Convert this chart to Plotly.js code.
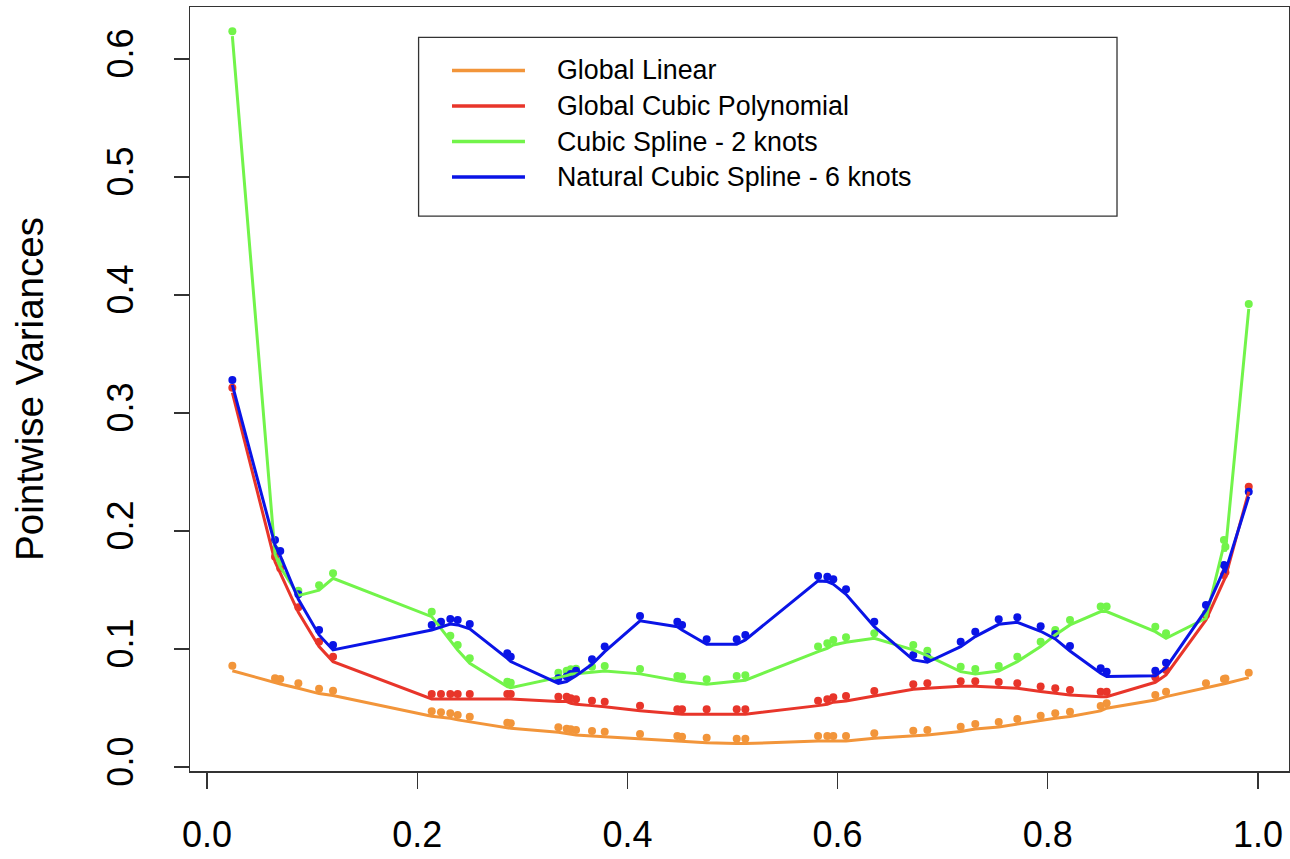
<!DOCTYPE html>
<html>
<head>
<meta charset="utf-8">
<script src="https://cdn.plot.ly/plotly-3.0.1.min.js"></script>
<style>html,body{margin:0;padding:0;background:#fff;}#chart{width:1290px;height:859px;}</style>
</head>
<body>
<div id="chart"></div>
<script>
// ---- data ----
const xs = [0.0241,0.0647,0.0697,0.0869,0.1066,0.1199,0.2138,0.2226,0.2315,0.2385,0.2500,0.2857,0.2890,0.3343,0.3422,0.3461,0.3511,0.3663,0.3784,0.4120,0.4475,0.4520,0.4754,0.5040,0.5122,0.5814,0.5902,0.5959,0.6080,0.6349,0.6720,0.6854,0.7171,0.7310,0.7533,0.7710,0.7932,0.8071,0.8211,0.8503,0.8560,0.9023,0.9125,0.9505,0.9676,0.9690,0.9912];

const globalLinear = [0.0858,0.0752,0.0745,0.0709,0.0664,0.0647,0.0472,0.0464,0.0455,0.0441,0.0426,0.0375,0.0370,0.0336,0.0325,0.0319,0.0314,0.0305,0.0299,0.0280,0.0263,0.0257,0.0248,0.0240,0.0240,0.0263,0.0263,0.0263,0.0263,0.0286,0.0308,0.0314,0.0342,0.0364,0.0381,0.0407,0.0435,0.0455,0.0469,0.0517,0.0540,0.0610,0.0638,0.0709,0.0746,0.0750,0.0799];

const globalCubic = [0.3214,0.1782,0.1684,0.1353,0.1062,0.0935,0.0619,0.0619,0.0619,0.0619,0.0619,0.0619,0.0619,0.0596,0.0596,0.0582,0.0574,0.0562,0.0553,0.0519,0.0489,0.0489,0.0489,0.0489,0.0489,0.0562,0.0574,0.0591,0.0602,0.0644,0.0701,0.0709,0.0726,0.0726,0.0720,0.0709,0.0682,0.0667,0.0653,0.0638,0.0638,0.0760,0.0822,0.1288,0.1627,0.1650,0.2375];

const cubicSpline2 = [0.6235,0.1845,0.1737,0.1494,0.1540,0.1641,0.1316,0.1217,0.1113,0.1034,0.0921,0.0723,0.0714,0.0799,0.0816,0.0828,0.0833,0.0850,0.0856,0.0831,0.0771,0.0766,0.0743,0.0771,0.0777,0.1020,0.1048,0.1076,0.1099,0.1133,0.1034,0.0986,0.0850,0.0831,0.0856,0.0935,0.1062,0.1161,0.1246,0.1359,0.1359,0.1189,0.1133,0.1302,0.1924,0.1867,0.3924];

const naturalSpline6 = [0.3280,0.1924,0.1831,0.1463,0.1161,0.1034,0.1203,0.1231,0.1254,0.1246,0.1212,0.0963,0.0935,0.0751,0.0766,0.0788,0.0816,0.0912,0.1020,0.1280,0.1231,0.1203,0.1082,0.1082,0.1119,0.1619,0.1613,0.1591,0.1506,0.1231,0.0949,0.0929,0.1062,0.1147,0.1251,0.1268,0.1192,0.1127,0.1025,0.0836,0.0808,0.0816,0.0884,0.1373,0.1712,0.1700,0.2333];

const seriesNames = ["Global Linear","Global Cubic Polynomial","Cubic Spline - 2 knots","Natural Cubic Spline - 6 knots"];
const seriesValues = [globalLinear, globalCubic, cubicSpline2, naturalSpline6];

const xTickVals = [0,0.2,0.4,0.6,0.8,1.0];
const xTickText = ["0.0","0.2","0.4","0.6","0.8","1.0"];
const yTickVals = [0,0.1,0.2,0.3,0.4,0.5,0.6];
const yTickText = ["0.0","0.1","0.2","0.3","0.4","0.5","0.6"];
const yTitle = "Pointwise Variances";

// ---- styling ----
const colors = ["#F2953A","#E8352A","#72F44A","#0A14E6"];
const FONT = "Liberation Sans, Arial, Helvetica, sans-serif";
const yRange = [-0.0034, 0.644];
const lineShift = 0.0042; // lines sit slightly below the dots in the reference

const traces = [];
seriesValues.forEach((vals, i) => {
  traces.push({
    x: xs, y: vals, type: 'scatter', mode: 'markers', yaxis: 'y',
    marker: {color: colors[i], size: 8}, showlegend: false, hoverinfo: 'skip'
  });
});
seriesValues.forEach((vals, i) => {
  traces.push({
    x: xs, y: vals, type: 'scatter', mode: 'lines', yaxis: 'y2',
    line: {color: colors[i], width: 3}, showlegend: false, name: seriesNames[i]
  });
});

// ---- legend (box, swatches and labels in paper coordinates) ----
const shapes = [{
  type: 'rect', xref: 'paper', yref: 'paper',
  x0: 0.2080, x1: 0.8435, y0: 0.7264, y1: 0.9602,
  line: {color: '#333', width: 1.3}, fillcolor: 'rgba(255,255,255,1)', layer: 'above'
}];
const annotations = [];
const rowY = [0.9169, 0.8704, 0.8239, 0.7775];
seriesNames.forEach((name, i) => {
  shapes.push({
    type: 'line', xref: 'paper', yref: 'paper',
    x0: 0.2384, x1: 0.3048, y0: rowY[i], y1: rowY[i],
    line: {color: colors[i], width: 3.5}, layer: 'above'
  });
  annotations.push({
    xref: 'paper', yref: 'paper', x: 0.3325, y: rowY[i],
    xanchor: 'left', yanchor: 'middle', showarrow: false,
    text: name, font: {family: FONT, size: 26.8, color: '#000'}
  });
});

const axisCommon = {
  showgrid: false, zeroline: false, showline: true, mirror: true,
  linecolor: '#333', linewidth: 1.5, ticks: 'outside', tickcolor: '#333', tickwidth: 1.3,
  tickfont: {family: FONT, size: 36, color: '#000'}
};

const layout = {
  width: 1290, height: 859,
  margin: {l: 190, r: 1, t: 7, b: 88},
  paper_bgcolor: '#fff', plot_bgcolor: '#fff',
  showlegend: false,
  xaxis: Object.assign({}, axisCommon, {
    range: [-0.0162, 1.0295], tickvals: xTickVals, ticktext: xTickText,
    ticklen: 16, ticklabelstandoff: 15,
    tickfont: {family: FONT, size: 36, color: '#000'}
  }),
  yaxis: Object.assign({}, axisCommon, {
    range: yRange, tickvals: yTickVals, ticktext: yTickText,
    ticklen: 15, tickangle: -90, ticklabelstandoff: 26,
    title: {text: yTitle, font: {family: FONT, size: 38.5, color: '#000'}, standoff: 44}
  }),
  yaxis2: {
    overlaying: 'y', range: [yRange[0] + lineShift, yRange[1] + lineShift],
    showgrid: false, zeroline: false, showline: false, showticklabels: false, ticks: ''
  },
  shapes: shapes,
  annotations: annotations
};

Plotly.newPlot('chart', traces, layout, {displayModeBar: false, staticPlot: true});
</script>
</body>
</html>
